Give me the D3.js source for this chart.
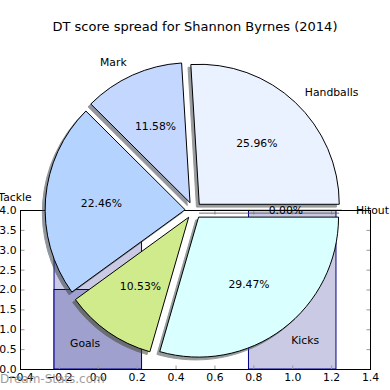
<!DOCTYPE html>
<html>
<head>
<meta charset="utf-8">
<script src="https://cdn.jsdelivr.net/npm/d3@7"></script>
<style>
html,body{margin:0;padding:0;background:#fff;}
svg{display:block;font-family:"DejaVu Sans",sans-serif;}
</style>
</head>
<body>
<svg id="chart" width="390" height="390"></svg>
<script>
// ---- data ----
const title = "DT score spread for Shannon Byrnes (2014)";
const labels = ["Handballs", "Mark", "Tackle", "Goals", "Kicks", "Hitout"];
const values = [25.96, 11.58, 22.46, 10.53, 29.47, 0.00];
const colors = ["#eaf2ff", "#c4d8ff", "#b4d4ff", "#d0eb8b", "#d9ffff", "#ffffff"];
const xTicks = [-0.4, -0.2, 0.0, 0.2, 0.4, 0.6, 0.8, 1.0, 1.2, 1.4];
const yTicks = [0.0, 0.5, 1.0, 1.5, 2.0, 2.5, 3.0, 3.5, 4.0];
const barPos = [0, 1];
const barTall = [4.6, 4.6];
const barShort = [2.0, 0.0];
const watermark = "Dream-Stats.com";

// ---- layout ----
const svg = d3.select("#chart");
const L = 20, R = 370, T = 210, B = 369;
const x = d3.scaleLinear().domain([-0.4, 1.4]).range([L, R]);
const y = d3.scaleLinear().domain([0, 4]).range([B, T]);
const barW = 0.45;

svg.append("defs").append("clipPath").attr("id", "axclip")
  .append("rect").attr("x", L).attr("y", T).attr("width", R - L).attr("height", B - T);

const ax = svg.append("g");
const bars = ax.append("g").attr("clip-path", "url(#axclip)");
bars.selectAll("rect.tall").data(barPos).join("rect").attr("class", "tall")
  .attr("x", d => x(d - barW / 2)).attr("width", d => x(d + barW / 2) - x(d - barW / 2))
  .attr("y", (d, i) => y(barTall[i])).attr("height", (d, i) => y(0) - y(barTall[i]))
  .attr("fill", "#cacae4").attr("stroke", "#00008b").attr("stroke-width", 1);
bars.selectAll("rect.short").data(barPos.filter((d, i) => barShort[i] > 0)).join("rect").attr("class", "short")
  .attr("x", d => x(d - barW / 2)).attr("width", d => x(d + barW / 2) - x(d - barW / 2))
  .attr("y", (d, i) => y(barShort[i])).attr("height", (d, i) => y(0) - y(barShort[i]))
  .attr("fill", "#a0a0cf").attr("stroke", "#00008b").attr("stroke-width", 1);

const fmt = d3.format(".1f");
const gx = ax.append("g").attr("transform", `translate(0,${B + 0.5})`)
  .call(d3.axisBottom(x).tickValues(xTicks).tickFormat(fmt).tickSize(-4).tickPadding(4));
const gxt = ax.append("g").attr("transform", `translate(0,${T + 0.5})`)
  .call(d3.axisTop(x).tickValues(xTicks).tickFormat("").tickSize(-4));
const gy = ax.append("g").attr("transform", `translate(${L + 0.5},0)`)
  .call(d3.axisLeft(y).tickValues(yTicks).tickFormat(fmt).tickSize(-4).tickPadding(4));
const gyr = ax.append("g").attr("transform", `translate(${R + 0.5},0)`)
  .call(d3.axisRight(y).tickValues(yTicks).tickFormat("").tickSize(-4));
[gx, gxt, gy, gyr].forEach(g => {
  g.select(".domain").remove();
  g.selectAll(".tick line").attr("stroke", "#999");
  g.selectAll("text").attr("font-size", 10.8).attr("font-family", "DejaVu Sans").attr("fill", "#000");
});
ax.append("rect").attr("x", L + 0.5).attr("y", T + 0.5).attr("width", R - L).attr("height", B - T)
  .attr("fill", "none").attr("stroke", "#000").attr("stroke-width", 1);

// ---- pie ----
const cx = 193.5, cy = 210.4, r = 140, explode = 0.06;
const pie = d3.pie().sort(null).value(d => d)
  .startAngle(Math.PI / 2).endAngle(Math.PI / 2 - 2 * Math.PI);
const arcs = pie(values);
const arc = d3.arc().innerRadius(0).outerRadius(r);
const total = d3.sum(values);
const mid = a => (a.startAngle + a.endAngle) / 2;
const off = (a, k) => [Math.sin(mid(a)) * k, -Math.cos(mid(a)) * k];

const pg = svg.append("g").attr("transform", `translate(${cx},${cy})`);
const shOff = 2.8;
pg.selectAll("path.shadow").data(arcs).join("path").attr("class", "shadow")
  .attr("transform", a => { const o = off(a, explode * r); return `translate(${o[0] - shOff},${o[1] + shOff})`; })
  .attr("d", arc)
  .attr("fill", (a, i) => { const c = d3.rgb(colors[i]); return d3.rgb(c.r * 0.3, c.g * 0.3, c.b * 0.3); })
  .attr("stroke", (a, i) => { const c = d3.rgb(colors[i]); return d3.rgb(c.r * 0.3, c.g * 0.3, c.b * 0.3); })
  .attr("opacity", 0.55);
pg.selectAll("path.wedge").data(arcs).join("path").attr("class", "wedge")
  .attr("transform", a => { const o = off(a, explode * r); return `translate(${o[0]},${o[1]})`; })
  .attr("d", arc)
  .attr("fill", (a, i) => colors[i]).attr("stroke", "#000").attr("stroke-width", 1);

pg.selectAll("text.lab").data(arcs).join("text").attr("class", "lab")
  .attr("x", a => off(a, explode * r)[0] + Math.sin(mid(a)) * 1.1 * r)
  .attr("y", a => off(a, explode * r)[1] - Math.cos(mid(a)) * 1.1 * r)
  .attr("text-anchor", a => Math.sin(mid(a)) > 0 ? "start" : "end")
  .attr("dominant-baseline", "central")
  .attr("font-size", 10.8).text((a, i) => labels[i]);
pg.selectAll("text.pct").data(arcs).join("text").attr("class", "pct")
  .attr("x", a => off(a, explode * r)[0] + Math.sin(mid(a)) * 0.6 * r)
  .attr("y", a => off(a, explode * r)[1] - Math.cos(mid(a)) * 0.6 * r)
  .attr("text-anchor", "middle").attr("dominant-baseline", "central")
  .attr("font-size", 10.8).text(a => (a.value / total * 100).toFixed(2) + "%");

svg.append("text").attr("x", 195).attr("y", 31).attr("text-anchor", "middle")
  .attr("font-size", 13).text(title);
svg.append("text").attr("x", 0).attr("y", 383).attr("font-size", 12)
  .attr("fill", "#888").attr("opacity", 0.8).text(watermark);
</script>
</body>
</html>
